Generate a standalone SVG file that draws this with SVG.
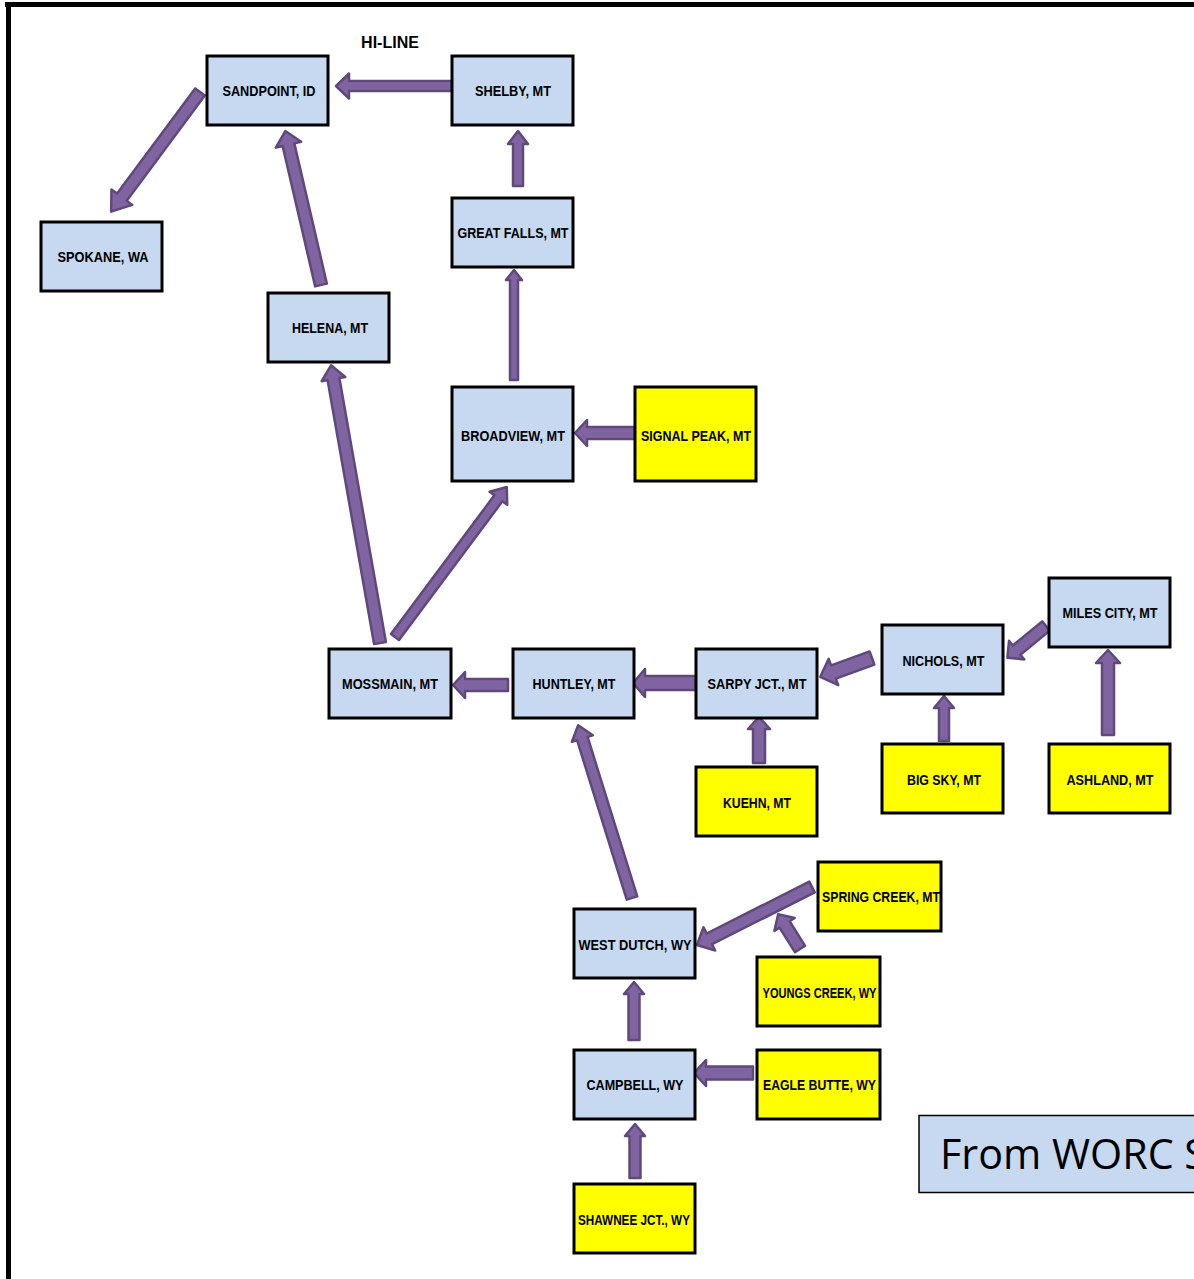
<svg xmlns="http://www.w3.org/2000/svg" width="1194" height="1279" viewBox="0 0 1194 1279">
<style>
.b{fill:#C6D9F1;stroke:#000;stroke-width:3}
.y{fill:#FFFF00;stroke:#000;stroke-width:3}
.t{font-family:"Liberation Sans",Arial,sans-serif;font-weight:bold;font-size:15px;fill:#000;text-anchor:middle}
.a{fill:#8064A2;stroke:#5F497A;stroke-width:2.5;stroke-linejoin:round}
</style>
<rect x="0" y="0" width="1194" height="1279" fill="#fff"/>
<rect x="5" y="2" width="1189" height="5" fill="#000"/>
<rect x="6" y="2" width="5" height="1277" fill="#000"/>
<text x="390" y="48" class="t" style="font-size:16px">HI-LINE</text>
<g id="connectors">
<path class="a" transform="translate(452,86) rotate(180)" d="M0,-5 H103 V-12.5 L116,0 L103,12.5 V5 H0Z"/>
<path class="a" transform="translate(200,92) rotate(126.6)" d="M0,-6 H131 V-13 L149,0 L131,13 V6 H0Z"/>
<path class="a" transform="translate(518,186) rotate(-90)" d="M0,-5 H42 V-10 L55,0 L42,10 V5 H0Z"/>
<path class="a" transform="translate(514,380) rotate(-90)" d="M0,-4 H100 V-8 L110,0 L100,8 V4 H0Z"/>
<path class="a" transform="translate(321,285) rotate(-103.05)" d="M0,-6 H144 V-13 L158,0 L144,13 V6 H0Z"/>
<path class="a" transform="translate(380,643) rotate(-100)" d="M0,-6 H268 V-12 L282,0 L268,12 V6 H0Z"/>
<path class="a" transform="translate(395,637) rotate(-53.3)" d="M0,-5 H173 V-11 L187,0 L173,11 V5 H0Z"/>
<path class="a" transform="translate(635,433) rotate(180)" d="M0,-6 H48 V-13 L60,0 L48,13 V6 H0Z"/>
<path class="a" transform="translate(508,685) rotate(180)" d="M0,-6 H43 V-13 L55,0 L43,13 V6 H0Z"/>
<path class="a" transform="translate(696,683) rotate(180)" d="M0,-7 H51 V-14 L63,0 L51,14 V7 H0Z"/>
<path class="a" transform="translate(872,658) rotate(160)" d="M0,-7 H41 V-14 L55,0 L41,14 V7 H0Z"/>
<path class="a" transform="translate(1046,626) rotate(140.6)" d="M0,-6 H38 V-12 L50,0 L38,12 V6 H0Z"/>
<path class="a" transform="translate(759,763) rotate(-90)" d="M0,-6 H34 V-11 L46,0 L34,11 V6 H0Z"/>
<path class="a" transform="translate(944,741) rotate(-90)" d="M0,-5 H33 V-10 L45,0 L33,10 V5 H0Z"/>
<path class="a" transform="translate(1108,735) rotate(-90)" d="M0,-6 H72 V-12 L85,0 L72,12 V6 H0Z"/>
<path class="a" transform="translate(632,898) rotate(-107.3)" d="M0,-5.5 H167 V-11 L181,0 L167,11 V5.5 H0Z"/>
<path class="a" transform="translate(812,887) rotate(153.2)" d="M0,-6 H115 V-13 L129,0 L115,13 V6 H0Z"/>
<path class="a" transform="translate(800,949) rotate(-122.2)" d="M0,-6 H29 V-12 L41,0 L29,12 V6 H0Z"/>
<path class="a" transform="translate(634,1040) rotate(-90)" d="M0,-5.5 H46 V-10 L58,0 L46,10 V5.5 H0Z"/>
<path class="a" transform="translate(753,1073) rotate(180)" d="M0,-6.5 H47 V-13 L59,0 L47,13 V6.5 H0Z"/>
<path class="a" transform="translate(635,1178) rotate(-90)" d="M0,-5.5 H42 V-10 L54,0 L42,10 V5.5 H0Z"/>
</g>
<g id="sandpoint"><rect class="b" x="207" y="56" width="121" height="69"/><text class="t" x="269" y="95.5" textLength="93" lengthAdjust="spacingAndGlyphs">SANDPOINT, ID</text></g>
<g id="shelby"><rect class="b" x="452" y="56" width="121" height="69"/><text class="t" x="513" y="95.5" textLength="76" lengthAdjust="spacingAndGlyphs">SHELBY, MT</text></g>
<g id="greatfalls"><rect class="b" x="452" y="198" width="121" height="69"/><text class="t" x="513" y="237.5" textLength="111" lengthAdjust="spacingAndGlyphs">GREAT FALLS, MT</text></g>
<g id="spokane"><rect class="b" x="41" y="222" width="121" height="69"/><text class="t" x="103" y="261.5" textLength="91" lengthAdjust="spacingAndGlyphs">SPOKANE, WA</text></g>
<g id="helena"><rect class="b" x="268" y="293" width="121" height="69"/><text class="t" x="330" y="332.5" textLength="76" lengthAdjust="spacingAndGlyphs">HELENA, MT</text></g>
<g id="broadview"><rect class="b" x="452" y="387" width="121" height="94"/><text class="t" x="513" y="440.5" textLength="104" lengthAdjust="spacingAndGlyphs">BROADVIEW, MT</text></g>
<g id="signalpeak"><rect class="y" x="635" y="387" width="121" height="94"/><text class="t" x="696" y="440.5" textLength="110" lengthAdjust="spacingAndGlyphs">SIGNAL PEAK, MT</text></g>
<g id="mossmain"><rect class="b" x="329" y="649" width="122" height="69"/><text class="t" x="390" y="688.5" textLength="96" lengthAdjust="spacingAndGlyphs">MOSSMAIN, MT</text></g>
<g id="huntley"><rect class="b" x="513" y="649" width="121" height="69"/><text class="t" x="574" y="688.5" textLength="83" lengthAdjust="spacingAndGlyphs">HUNTLEY, MT</text></g>
<g id="sarpy"><rect class="b" x="696" y="649" width="121" height="69"/><text class="t" x="757" y="688.5" textLength="99" lengthAdjust="spacingAndGlyphs">SARPY JCT., MT</text></g>
<g id="nichols"><rect class="b" x="882" y="625" width="121" height="69"/><text class="t" x="943.5" y="666" textLength="82" lengthAdjust="spacingAndGlyphs">NICHOLS, MT</text></g>
<g id="milescity"><rect class="b" x="1049" y="578" width="121" height="69"/><text class="t" x="1110" y="617.5" textLength="95" lengthAdjust="spacingAndGlyphs">MILES CITY, MT</text></g>
<g id="kuehn"><rect class="y" x="696" y="767" width="121" height="69"/><text class="t" x="757" y="807.5" textLength="68" lengthAdjust="spacingAndGlyphs">KUEHN, MT</text></g>
<g id="bigsky"><rect class="y" x="882" y="744" width="121" height="69"/><text class="t" x="944" y="784.5" textLength="74" lengthAdjust="spacingAndGlyphs">BIG SKY, MT</text></g>
<g id="ashland"><rect class="y" x="1049" y="744" width="121" height="69"/><text class="t" x="1110" y="784.5" textLength="87" lengthAdjust="spacingAndGlyphs">ASHLAND, MT</text></g>
<g id="springcreek"><rect class="y" x="818" y="862" width="123" height="69"/><text class="t" x="881" y="902" textLength="118" lengthAdjust="spacingAndGlyphs">SPRING CREEK, MT</text></g>
<g id="westdutch"><rect class="b" x="574" y="909" width="121" height="69"/><text class="t" x="635" y="949.5" textLength="113" lengthAdjust="spacingAndGlyphs">WEST DUTCH, WY</text></g>
<g id="youngscreek"><rect class="y" x="757" y="957" width="123" height="69"/><text class="t" x="819.5" y="997.5" textLength="114" lengthAdjust="spacingAndGlyphs">YOUNGS CREEK, WY</text></g>
<g id="campbell"><rect class="b" x="574" y="1050" width="121" height="69"/><text class="t" x="635" y="1089.5" textLength="97" lengthAdjust="spacingAndGlyphs">CAMPBELL, WY</text></g>
<g id="eaglebutte"><rect class="y" x="757" y="1050" width="123" height="69"/><text class="t" x="819.5" y="1089.5" textLength="113" lengthAdjust="spacingAndGlyphs">EAGLE BUTTE, WY</text></g>
<g id="shawnee"><rect class="y" x="574" y="1184" width="121" height="69"/><text class="t" x="634" y="1224.5" textLength="112" lengthAdjust="spacingAndGlyphs">SHAWNEE JCT., WY</text></g>
<g id="source"><rect x="919" y="1115.5" width="290" height="77" fill="#C6D9F1" stroke="#000" stroke-width="1.5"/><text x="940" y="1169" font-family="'Open Sans','Liberation Sans',sans-serif" font-size="42" fill="#000" textLength="267" lengthAdjust="spacingAndGlyphs">From WORC S</text></g>
</svg>
